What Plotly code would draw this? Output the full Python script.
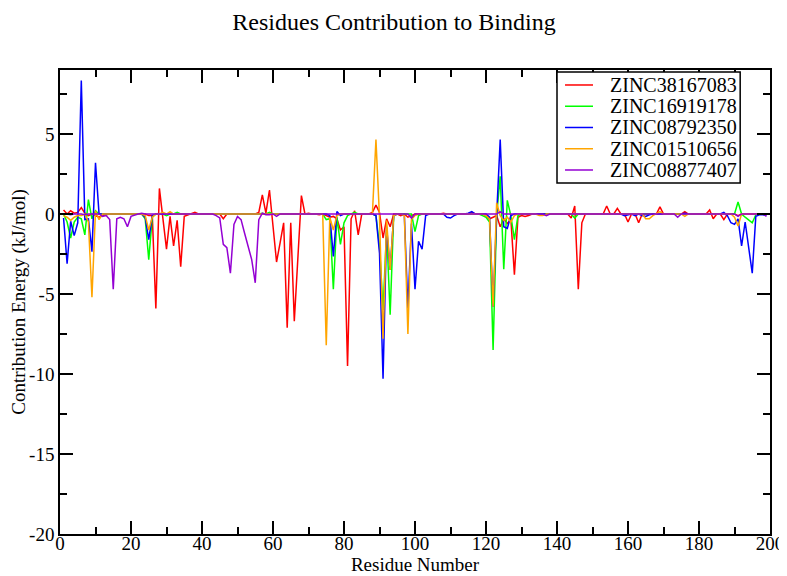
import plotly.graph_objects as go

residues = list(range(1, 200))

zinc38167083 = [
    0.25, 0.0, 0.2, 0.05, 0.1, 0.4, 0.05, -0.1, 0.0, -0.1,
    -0.2, -0.1, -0.05, 0, 0, 0, 0, 0, 0, 0,
    0, 0, 0, 0, -0.1, -0.1, -5.9, 1.6, -0.3, -2.2,
    -0.15, -2.0, -0.4, -3.3, -0.15, -0.05, 0, 0.1, 0, 0,
    0, 0, 0, 0, 0, -0.3, 0, 0, 0, 0,
    0, 0, 0, 0, 0, 0.1, 1.2, 0.05, 1.5, -0.75,
    -3.0, -1.8, -0.55, -7.1, -0.55, -6.7, -2.7, 1.15, 0.0, 0.05,
    0, 0, -0.05, 0, -0.1, -0.2, -0.15, -0.3, -1.0, -0.8,
    -9.5, -0.3, 0.2, -1.3, 0, 0, 0, 0.1, 0.55, 0.1,
    -1.5, -0.3, -0.8, 0, 0, -0.1, 0, -0.2, -0.1, 0,
    0, 0, 0, 0, 0, 0, 0, 0.05, 0, 0,
    0, 0, 0, 0, 0, 0.1, 0, 0, 0, -0.1,
    -0.3, -0.2, -0.1, -0.8, -0.3, -0.6, -0.3, -3.8, -0.2, -0.1,
    -0.15, -0.1, 0, 0, 0, 0, 0, 0, 0, 0,
    0, 0, 0, -0.25, 0.5, -4.7, -0.55, 0, 0, 0,
    0, 0, 0, 0.5, 0, 0, 0.35, 0, 0, -0.5,
    0, 0, -0.55, 0, 0, 0, 0, 0, 0.45, 0,
    0, 0, 0, 0, 0, 0.15, 0, 0, 0, 0,
    0, 0, 0.25, -0.3, 0, 0, -0.35, 0, 0, 0,
    -0.1, 0, 0, 0, 0, 0, 0, 0, 0,
]

zinc16919178 = [
    0, -0.5, -1.5, -0.5, -0.2, -0.3, -1.3, 0.9, -0.3, 0.2,
    0, 0, 0, 0, 0, 0, 0, 0, 0, 0,
    0, 0, 0, -0.3, -2.85, -0.2, 0, 0, 0, -0.1,
    0, 0, 0.1, 0, 0, 0, 0, 0, 0, 0,
    0, 0, 0, 0, 0, 0, 0, 0, 0, 0,
    0, 0, 0, 0, 0, 0, 0.05, 0, 0.1, 0,
    0, 0, 0, 0, 0, 0, 0, 0, 0, 0,
    0, 0, 0, 0, -0.35, -0.3, -4.7, -0.2, -1.9, -0.55,
    -0.1, 0, 0.1, 0, 0, 0, 0, 0, -0.1, -2.0,
    -6.0, -1.0, -6.3, -0.1, 0, 0, 0, 0, 0, -1.1,
    -0.1, 0, 0, 0, 0, 0, 0, 0, 0, 0,
    0, 0, 0, 0, 0, 0, 0, 0, -0.1, -0.2,
    -0.5, -8.5, -0.1, 2.35, -3.45, 0.85, -0.1, -1.6, -0.1, 0,
    0, 0, 0, 0, 0, 0, 0, 0, 0, 0,
    0, 0, 0, 0, -0.25, 0, 0, 0, 0, 0,
    0, 0, 0, 0, 0, 0, 0, 0, 0, 0,
    0, 0, 0, 0, 0, 0, 0, 0, 0, 0,
    0, 0, 0, 0, 0, 0, 0, 0, 0, 0,
    0, 0, 0, 0, 0, 0, 0, 0, 0, 0,
    0.75, 0, -0.2, -0.35, -0.55, -0.05, 0, 0, 0,
]

zinc08792350 = [
    -0.25, -3.1, -0.45, -1.35, -0.55, 8.35, -0.35, -0.3, -2.35, 3.2,
    0, 0, 0, 0, 0, 0, 0, 0, 0, 0,
    0, 0, 0, -0.2, -1.6, -0.1, 0, 0, 0, 0,
    0, 0, 0, 0, 0, 0, 0, 0, 0, 0,
    0, 0, 0, 0, 0, 0, 0, 0, 0, 0,
    0, 0, 0, 0, 0, 0, 0, 0, 0, 0,
    0, 0, 0, 0, 0, 0, 0, 0, 0, 0,
    0, 0, 0, 0, 0, -0.1, -2.65, 0.15, -0.1, 0,
    0, 0, 0, 0, 0, 0, 0, 0, -0.1, -2.45,
    -10.3, -0.8, -3.5, -0.1, 0, 0, -0.1, -5.9, -0.6, -4.7,
    -1.7, -2.2, -0.1, 0, 0, 0, 0, 0, -0.2, -0.25,
    -0.1, 0, 0, 0, 0.05, 0.15, 0, 0, 0, 0,
    -0.2, -5.8, -0.1, 4.65, -0.8, -0.9, -0.1, 0, 0, 0,
    0, 0, 0, 0, 0, 0, 0, 0, 0, 0,
    0, 0, 0, 0, 0, 0, 0, 0, 0, 0,
    0, 0, 0, 0, 0, 0, 0, 0, -0.1, -0.05,
    0, -0.1, 0, -0.1, -0.15, -0.05, 0, 0, 0, 0,
    0, 0, 0, 0, 0, 0.05, 0, 0, 0, 0,
    0, 0, 0, 0, 0, 0, 0.1, -0.1, -0.55, -0.65,
    -0.3, -2.0, -0.5, -2.0, -3.7, -0.15, -0.05, -0.05, -0.1,
]

zinc01510656 = [
    -0.1, -0.2, -0.4, -0.2, -0.1, -0.1, 0, -0.5, -5.2, 0.2,
    -0.35, 0, 0, 0, 0, 0, 0, 0, 0, 0,
    0, 0, 0, -0.1, -1.0, -0.2, 0, 0, 0.1, 0,
    0.15, 0, 0, 0, 0, 0, 0, 0, 0, 0,
    0, 0, 0, 0, 0, 0, 0, 0, 0, 0,
    0, 0, 0, 0, 0, 0, 0, 0, 0, 0,
    0, 0, 0, 0, 0, 0, 0, 0, 0, 0,
    0, 0, 0, 0, -8.2, -0.2, -1.0, -0.1, 0, 0,
    0, 0, 0, 0, 0, 0, 0, 0, 4.65, -0.2,
    -7.8, -0.4, -3.5, -0.1, 0, 0, -0.1, -7.5, -0.35, -0.1,
    0, 0, 0, 0, 0, 0, 0, 0, 0, 0,
    0, 0, 0, 0, 0, 0, 0, 0, 0, -0.1,
    -0.3, -5.8, 0.7, -0.1, -0.4, -0.2, -0.5, -0.1, 0, 0,
    0, 0, 0, 0, -0.1, -0.1, 0, 0, 0, 0,
    0, 0, 0, 0, 0, 0, 0, 0, 0, 0,
    0, 0, 0, 0, 0, 0, 0, 0, 0, 0,
    0, 0, 0, 0, -0.3, -0.3, -0.1, 0, 0.15, 0,
    0, 0, 0, 0, 0, -0.15, 0, 0, 0, 0,
    0, 0, 0, 0, 0, 0, 0, 0, 0, -0.2,
    -0.75, 0, 0, 0, 0, 0, 0, 0, 0,
]

zinc08877407 = [
    0, 0, -0.05, 0, 0, 0, -0.05, 0, 0, 0,
    0, -0.15, -0.1, -0.35, -4.7, -0.3, -0.2, -0.3, -0.8, -0.15,
    -0.05, 0, 0.05, 0, 0, 0, 0, 0, 0, 0,
    0, 0, 0, 0, 0, 0, 0, 0, 0, 0,
    0, 0, 0, -0.1, -0.25, -1.9, -2.1, -3.7, -0.65, -0.15,
    -0.35, -1.2, -2.0, -2.85, -4.3, -0.35, 0.05, -0.05, -0.05, 0,
    -0.15, 0, 0, 0, 0, 0, 0, 0, 0, 0,
    0, 0, 0, 0, 0, 0, 0, 0, 0, 0,
    0, 0, 0, 0, 0, 0, 0, 0, 0, 0,
    0, 0, 0, 0, 0, 0, 0, 0, -0.25, 0,
    0, 0, 0, 0, 0, 0, 0, 0, 0, 0,
    0, 0, 0, 0, 0, 0, 0, 0, 0, 0,
    0, 0, 0, 0.15, 0, 0, 0, 0, 0, 0,
    0, 0, 0, 0, 0, 0, -0.1, 0, 0, 0,
    0, 0, 0, 0, 0, 0, 0, 0, 0, 0,
    0, 0, 0, 0, 0, 0, 0, 0, 0, 0,
    0, 0, 0, 0, 0, 0, 0, 0, 0, 0,
    0, 0, 0, -0.2, 0, 0, 0, 0, 0, 0,
    0, 0, 0, 0, 0, 0, 0, 0, 0, 0,
    -0.15, 0, 0, 0, 0, 0, 0, 0, -0.15,
]

y_ticks = [5, 0, -5, -10, -15, -20]
y_ticklabels = ["5", "0", "-5", "-10", "-15", "-20"]

series = [
    ("ZINC38167083", zinc38167083, "#ff0000"),
    ("ZINC16919178", zinc16919178, "#00ff00"),
    ("ZINC08792350", zinc08792350, "#0000ff"),
    ("ZINC01510656", zinc01510656, "#ffa500"),
    ("ZINC08877407", zinc08877407, "#9400d3"),
]

font = "Liberation Serif, Times New Roman, serif"

fig = go.Figure()
for name, vals, color in series:
    fig.add_trace(go.Scatter(x=residues, y=vals, mode="lines", name=name,
                             line=dict(color=color, width=1.5), showlegend=False))

# Grace-style legend box: tighter rows than plotly's own legend allows
fig.add_shape(type="rect", xref="paper", yref="paper", x0=0.700, x1=0.958, y0=0.7565, y1=0.9957,
              line=dict(color="black", width=1.5), fillcolor="white", layer="above")
for i, (name, vals, color) in enumerate(series):
    row_y = 0.9677 - 0.0458 * i
    fig.add_shape(type="line", xref="paper", yref="paper", x0=0.7113, x1=0.7507, y0=row_y, y1=row_y,
                  line=dict(color=color, width=1.5), layer="above")
    fig.add_annotation(text=name, xref="paper", yref="paper", x=0.7718, y=row_y,
                       xanchor="left", yanchor="middle", showarrow=False,
                       font=dict(family=font, size=20, color="black"))

axis_common = dict(showline=True, linecolor="black", linewidth=1.5, mirror="ticks",
                   ticks="inside", tickcolor="black", tickwidth=1.5, ticklen=13,
                   showgrid=False, zeroline=False, automargin=False,
                   tickfont=dict(family=font, size=19, color="black"))

fig.update_xaxes(range=[0, 200], dtick=20, tick0=0, ticklabelstandoff=-9,
                 minor=dict(ticks="inside", dtick=10, ticklen=7, tickcolor="black", tickwidth=1.5),
                 title=dict(text="Residue Number", font=dict(family=font, size=19, color="black"), standoff=0),
                 **axis_common)
fig.update_yaxes(range=[-20, 9], tickmode="array", tickvals=y_ticks, ticktext=y_ticklabels,
                 minor=dict(ticks="inside", dtick=2.5, tick0=0, ticklen=7, tickcolor="black", tickwidth=1.5),
                 title=dict(text="Contribution Energy (kJ/mol)", font=dict(family=font, size=19, color="black"), standoff=14),
                 **axis_common)

# the page body has an 8px margin, so the figure is 8px smaller than the window
fig.update_layout(
    width=779, height=568,
    paper_bgcolor="white", plot_bgcolor="white",
    margin=dict(l=52, r=17, t=62, b=42),
    title=dict(text="Residues Contribution to Binding", x=386 / 779, xanchor="center",
               y=1 - 14 / 568, yanchor="middle", yref="container",
               font=dict(family=font, size=24, color="black")),
)

fig.write_html("out.html")
